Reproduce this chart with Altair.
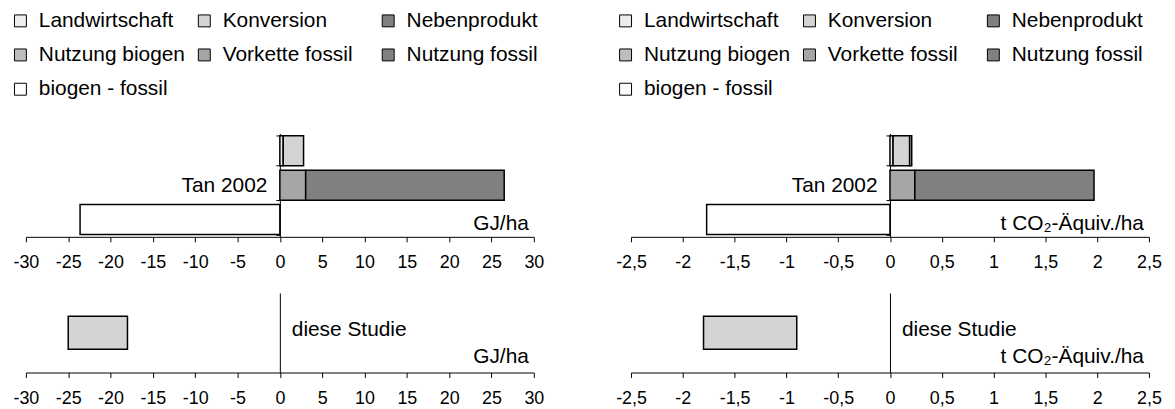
import altair as alt
import pandas as pd

FONT = "Liberation Sans"

series = ["Landwirtschaft", "Konversion", "Nebenprodukt", "Nutzung biogen",
          "Vorkette fossil", "Nutzung fossil", "biogen - fossil"]
colors = ["#EDEDED", "#D4D4D4", "#808080", "#BDBDBD", "#A6A6A6", "#808080", "#FFFFFF"]
rows = ["biogen", "Tan 2002", "diff"]

# Left panel: GJ/ha
gj_rows = ["biogen", "biogen", "Tan 2002", "Tan 2002", "diff"]
gj_series = ["Landwirtschaft", "Konversion", "Vorkette fossil", "Nutzung fossil", "biogen - fossil"]
gj_values = [0.4, 2.4, 3.05, 23.45, -23.6]
gj_study = [-25.0, -18.0]
gj_ticks = [-30, -25, -20, -15, -10, -5, 0, 5, 10, 15, 20, 25, 30]
gj_unit = "GJ/ha"

# Right panel: t CO2-equivalent/ha
co2_rows = ["biogen", "biogen", "biogen", "Tan 2002", "Tan 2002", "diff"]
co2_series = ["Landwirtschaft", "Konversion", "Nutzung biogen", "Vorkette fossil", "Nutzung fossil", "biogen - fossil"]
co2_values = [0.03, 0.16, 0.02, 0.24, 1.73, -1.77]
co2_study = [-1.8, -0.9]
co2_ticks = [-2.5, -2, -1.5, -1, -0.5, 0, 0.5, 1, 1.5, 2, 2.5]
co2_unit = "t CO\u2082-Äquiv./ha"

study_label = "diese Studie"


def segments(rws, ser, vals):
    recs = []
    acc = {}
    for r, s, v in zip(rws, ser, vals):
        a = acc.get(r, 0.0)
        recs.append({"row": r, "series": s, "start": a, "end": a + v})
        acc[r] = a + v
    return pd.DataFrame(recs)


def x_axis(ticks):
    return alt.Axis(values=ticks, title=None, grid=False, domainColor="black",
                    domainWidth=1, tickColor="black", tickSize=5, labelFontSize=18,
                    labelFont=FONT, labelColor="black", labelPadding=12,
                    labelExpr="replace(toString(datum.value), '.', ',')",
                    labelOverlap=False, labelFlush=False)


def panels(rws, ser, vals, study, ticks, unit, width, legend_x):
    domain = [ticks[0], ticks[-1]]
    off = -width * (0 - domain[0]) / (domain[1] - domain[0])
    df = segments(rws, ser, vals)
    xs = alt.Scale(domain=domain, nice=False, zero=False)
    xa = x_axis(ticks)
    ya = alt.Axis(title=None, offset=off, tickBand="extent", tickSize=4, grid=False,
                  tickColor="black", domainColor="black", labelFontSize=21,
                  labelFont=FONT, labelColor="black", labelPadding=9,
                  labelExpr="datum.value == 'Tan 2002' ? 'Tan 2002' : ''")
    ys = alt.Scale(domain=rows, paddingInner=0.13, paddingOuter=0.065)
    bars = alt.Chart(df).mark_bar(stroke="black", strokeWidth=1.5).encode(
        x=alt.X("start:Q", scale=xs, axis=xa),
        x2="end:Q",
        y=alt.Y("row:N", sort=rows, scale=ys, axis=ya),
        fill=alt.Fill("series:N", scale=alt.Scale(domain=series, range=colors),
                      legend=alt.Legend(orient="none", legendX=legend_x, legendY=-124,
                                        columns=3, direction="horizontal", title=None,
                                        symbolType="square", symbolSize=144,
                                        symbolStrokeColor="black", symbolStrokeWidth=1,
                                        labelFontSize=21, labelFont=FONT, labelColor="black",
                                        labelOffset=8, columnPadding=8, rowPadding=12.5,
                                        gridAlign="all", labelLimit=0)),
    )
    unit_df = pd.DataFrame({"x": [domain[1]], "row": ["diff"], "t": [unit]})
    unit_txt = alt.Chart(unit_df).mark_text(align="right", baseline="middle", dx=-5, dy=4,
                                            fontSize=21, font=FONT, color="black").encode(
        x=alt.X("x:Q", scale=xs, axis=xa), y=alt.Y("row:N", sort=rows, scale=ys, axis=ya),
        text="t:N")
    top = alt.layer(bars, unit_txt).properties(width=width, height=104)

    sxs = alt.Scale(domain=domain, nice=False, zero=False)
    sya = alt.Axis(title=None, offset=off, ticks=False, labels=False, grid=False,
                   domainColor="black")
    sys_ = alt.Scale(paddingInner=0, paddingOuter=0.71)
    sdf = pd.DataFrame({"row": ["s"], "start": [study[0]], "end": [study[1]]})
    sbar = alt.Chart(sdf).mark_bar(stroke="black", strokeWidth=1.5, fill="#D4D4D4").encode(
        x=alt.X("start:Q", scale=sxs, axis=xa),
        x2="end:Q",
        y=alt.Y("row:N", scale=sys_, axis=sya),
    )
    tdf = pd.DataFrame({"x": [0.0], "row": ["s"], "t": [study_label]})
    stxt = alt.Chart(tdf).mark_text(align="left", baseline="middle", dx=12, dy=-3,
                                    fontSize=21, font=FONT, color="black").encode(
        x=alt.X("x:Q", scale=sxs, axis=xa), y=alt.Y("row:N", scale=sys_, axis=sya),
        text="t:N")
    udf = pd.DataFrame({"x": [domain[1]], "row": ["s"], "t": [unit]})
    utxt = alt.Chart(udf).mark_text(align="right", baseline="middle", dx=-5, dy=24,
                                    fontSize=21, font=FONT, color="black").encode(
        x=alt.X("x:Q", scale=sxs, axis=xa), y=alt.Y("row:N", scale=sys_, axis=sya),
        text="t:N")
    bottom = alt.layer(sbar, stxt, utxt).properties(width=width, height=80)
    return top, bottom


topL, botL = panels(gj_rows, gj_series, gj_values, gj_study, gj_ticks, gj_unit, 511, -16)
topR, botR = panels(co2_rows, co2_series, co2_values, co2_study, co2_ticks, co2_unit, 521, -16)

chart = alt.concat(topL, topR, botL, botR, columns=2, bounds="flush",
                   spacing={"row": 56.5, "column": 97.8}).resolve_scale(
    fill="independent", x="independent", y="independent"
).resolve_legend(fill="independent").properties(
    padding={"left": 2, "top": 1, "right": 5, "bottom": 2}
).configure(font=FONT, view=alt.ViewConfig(stroke=None))

chart.save("out.html", embed_options={"renderer": "svg", "actions": False})
